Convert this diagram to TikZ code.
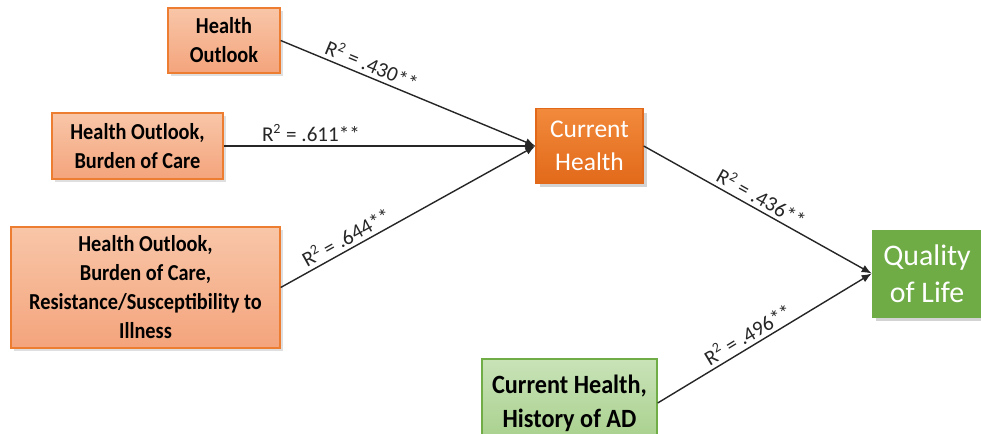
\documentclass[tikz,border=0pt]{standalone}
\usepackage{fontspec}
\setmainfont{Carlito}
\newfontfamily\boxfont[FakeStretch=0.89]{Carlito}
\newfontfamily\adfont[FakeStretch=0.92]{Carlito}
\usepackage{xcolor}
\usepackage{tikz}
\usetikzlibrary{positioning,shadows,arrows.meta}
\definecolor{predline}{HTML}{ED7D31}
\definecolor{predtop}{HTML}{F8C6A8}
\definecolor{predbot}{HTML}{F4A47C}
\definecolor{curtop}{HTML}{F28A3C}
\definecolor{curbot}{HTML}{E2691A}
\definecolor{adline}{HTML}{70AD47}
\definecolor{adtop}{HTML}{C9E3B8}
\definecolor{adbot}{HTML}{A6CF8A}
\definecolor{qolfill}{HTML}{6FAC46}
\tikzset{
	predbox/.style={rectangle, draw=predline, thick, top color=predtop, bottom color=predbot, align=center, font=\boxfont\fontsize{13}{16.5}\selectfont\bfseries, drop shadow={opacity=0.25, shadow xshift=0.06cm, shadow yshift=-0.06cm}},
	curbox/.style={rectangle, draw=curbot, thick, top color=curtop, bottom color=curbot, text=white, align=center, font=\fontsize{14.5}{19}\selectfont, drop shadow={opacity=0.35, shadow xshift=0.08cm, shadow yshift=-0.08cm}},
	adbox/.style={rectangle, draw=adline, thick, top color=adtop, bottom color=adbot, align=center, font=\adfont\fontsize{15}{19.5}\selectfont\bfseries},
	qolbox/.style={rectangle, draw=qolfill, fill=qolfill, text=white, align=center, font=\fontsize{17}{21}\selectfont, drop shadow={opacity=0.35, shadow xshift=0.08cm, shadow yshift=-0.08cm}},
	path/.style={-{Latex[length=2mm,width=1.6mm]}, thick, black!85},
	rsq/.style={sloped, above, font=\fontsize{12}{14}\selectfont, inner sep=2pt}
}
\begin{document}
\begin{tikzpicture}[x=0.02cm, y=-0.02cm]
		\useasboundingbox (0,0) rectangle (981,433);
		\node[predbox, minimum width=2.24cm, minimum height=1.3cm] at (224,40.5) (ho) {Health\\Outlook};
		\node[predbox, minimum width=3.42cm, minimum height=1.32cm] at (137.5,146) (hobc) {Health Outlook,\\Burden of Care};
		\node[predbox, minimum width=5.38cm, minimum height=2.42cm] at (145.5,287.5) (hobcr) {Health Outlook,\\Burden of Care,\\Resistance/Susceptibility to\\Illness};
		\node[curbox, minimum width=2.14cm, minimum height=1.5cm] at (589.5,146) (cur) {Current\\Health};
		\node[qolbox, minimum width=2.2cm, minimum height=1.74cm] at (927,273.5) (qol) {Quality\\of Life};
		\node[adbox, minimum width=3.5cm, minimum height=1.76cm] at (569.5,403) (ad) {Current Health,\\History of AD};
		
		%Paths
		\draw[path] (ho.east) -- node[rsq, pos=0.34] {R\textsuperscript{2} = .430**} (cur.west);
		\draw[path] (hobc.east) -- node[rsq, pos=0.28] {R\textsuperscript{2} = .611**} (cur.west);
		\draw[path] (hobcr.east) -- node[rsq, pos=0.28] {R\textsuperscript{2} = .644**} (cur.west);
		\draw[path] (cur.east) -- node[rsq, pos=0.49] {R\textsuperscript{2} = .436**} (qol.west);
		\draw[path] (ad.east) -- node[rsq, pos=0.45] {R\textsuperscript{2} = .496**} (qol.west);
	\end{tikzpicture}
\end{document}
